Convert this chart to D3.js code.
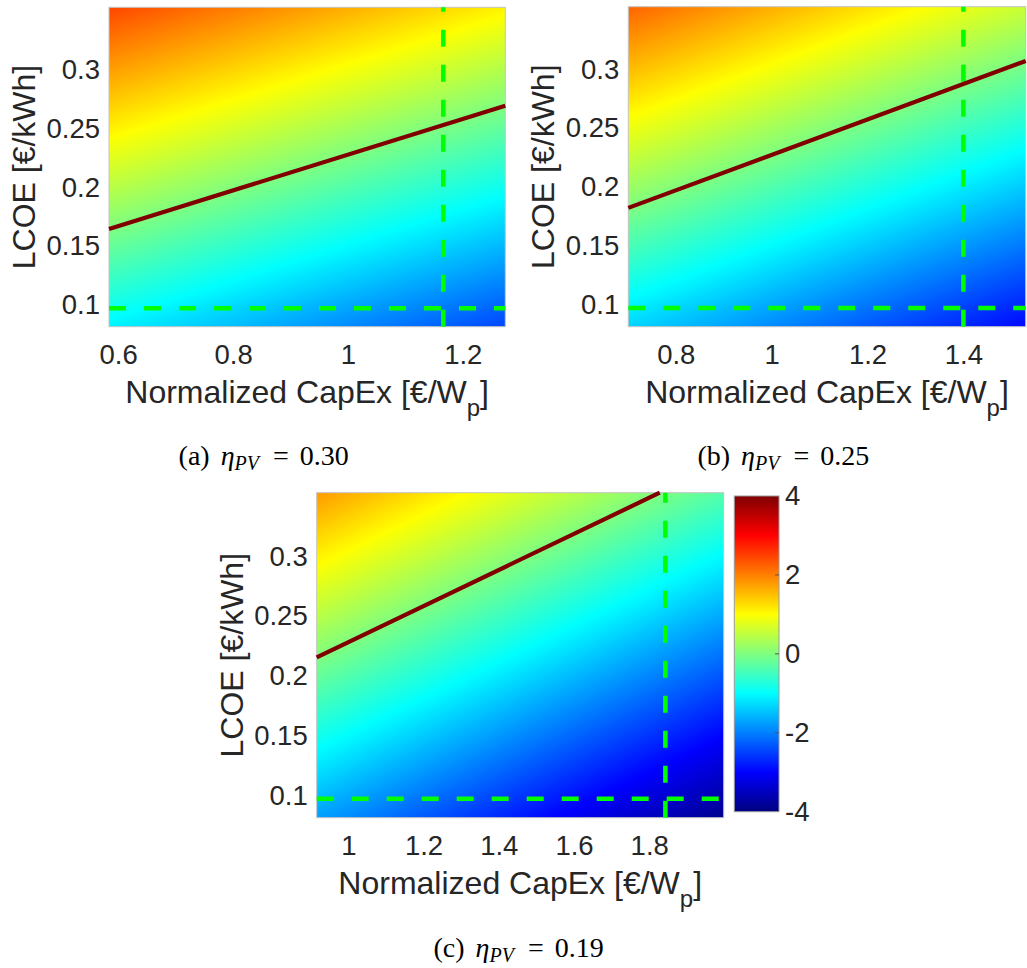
<!DOCTYPE html>
<html>
<head>
<meta charset="utf-8">
<script src="https://cdn.jsdelivr.net/npm/d3@7"></script>
<style>
  html, body { margin: 0; padding: 0; background: #fff; }
  svg { display: block; }
</style>
</head>
<body>
<svg id="fig" width="1027" height="968"></svg>
<script>
// ---- data -------------------------------------------------------------
// PV efficiency of each sub-figure
const panelKeys = ["a", "b", "c"];
const etaValues = ["0.30", "0.25", "0.19"];

// normalized CapEx range [€/Wp] of each panel and the shared LCOE range [€/kWh]
const capexRanges = [[0.584, 1.274], [0.701, 1.530], [0.916, 1.998]];
const lcoeRange = [0.0812, 0.3532];

// tick labels
const capexTicks = [[0.6, 0.8, 1, 1.2], [0.8, 1, 1.2, 1.4], [1, 1.2, 1.4, 1.6, 1.8]];
const lcoeTicks = [0.1, 0.15, 0.2, 0.25, 0.3];
const colorTicks = [-4, -2, 0, 2, 4];
const colorRange = [-4, 4];

// surface nodes: CapEx columns, LCOE rows (bottom -> top)
const gridCapex = [[0.584, 0.929, 1.274], [0.701, 1.115, 1.530], [0.916, 1.457, 1.998]];
const gridLcoe = [0.0812, 0.2172, 0.3532];
const surfaceA = [[-1.08, -1.77, -2.45], [0.68, 0.00, -0.68], [2.45, 1.77, 1.09]];
const surfaceB = [[-1.32, -2.14, -2.95], [0.45, -0.37, -1.19], [2.22, 1.40, 0.58]];
const surfaceC = [[-1.74, -2.81, -3.88], [0.03, -1.04, -2.11], [1.79, 0.72, -0.34]];

// reference CapEx (vertical dashed) and reference LCOE (horizontal dashed)
const refCapex = [1.166, 1.400, 1.843];
const refLcoe = 0.097;

// break-even line end points [CapEx, LCOE]
const breakEvenA = [[0.584, 0.1644], [1.274, 0.2694]];
const breakEvenB = [[0.701, 0.1822], [1.530, 0.3071]];
const breakEvenC = [[0.916, 0.2154], [1.828, 0.3532]];

const surfaces = [surfaceA, surfaceB, surfaceC];
const breakEvens = [breakEvenA, breakEvenB, breakEvenC];

// ---- layout -----------------------------------------------------------
const frames = [
  { left: 109.0, right: 505.3, top: 7.3, bottom: 326.7, capX: 263.7, capY: 465 },
  { left: 628.3, right: 1025.7, top: 6.7, bottom: 326.7, capX: 783.3, capY: 465 },
  { left: 316.7, right: 723.7, top: 492.7, bottom: 817.7, capX: 518.6, capY: 957 }
];
const cbar = { left: 734.3, right: 779, top: 496, bottom: 811.7 };

const SANS = "'Liberation Sans', Arial, Helvetica, sans-serif";
const SERIF = "'Liberation Serif', 'Times New Roman', serif";
const INK = "#262626";

const svg = d3.select("#fig");

// jet colormap over the colour range
const jet = d3.scaleLinear()
  .domain([-4, -3, -1, 1, 3, 4])
  .range(["#000080", "#0000ff", "#00ffff", "#ffff00", "#ff0000", "#800000"])
  .interpolate(d3.interpolateRgb)
  .clamp(true);

// rasterise a surface (shading interp) into an image
function surfaceImage(xs, ys, gx, gy, vals) {
  const [x0, x1] = xs.range();
  const [yb, yt] = ys.range();
  const w = Math.round(x1 - x0), h = Math.round(yb - yt);
  const cv = document.createElement("canvas");
  cv.width = w; cv.height = h;
  const ctx = cv.getContext("2d");
  const img = ctx.createImageData(w, h);
  const fx = d3.scaleLinear().domain(gx).range(d3.range(gx.length)).clamp(true);
  const fy = d3.scaleLinear().domain(gy).range(d3.range(gy.length)).clamp(true);
  for (let j = 0; j < h; j++) {
    const ty = fy(ys.invert(yt + (j + 0.5) * (yb - yt) / h));
    const r = Math.min(Math.floor(ty), gy.length - 2), v = ty - r;
    for (let i = 0; i < w; i++) {
      const tx = fx(xs.invert(x0 + (i + 0.5) * (x1 - x0) / w));
      const c = Math.min(Math.floor(tx), gx.length - 2), u = tx - c;
      const val = (1 - u) * (1 - v) * vals[r][c] + u * (1 - v) * vals[r][c + 1]
                + (1 - u) * v * vals[r + 1][c] + u * v * vals[r + 1][c + 1];
      const col = d3.rgb(jet(val));
      const k = (j * w + i) * 4;
      img.data[k] = col.r; img.data[k + 1] = col.g; img.data[k + 2] = col.b; img.data[k + 3] = 255;
    }
  }
  ctx.putImageData(img, 0, 0);
  return cv.toDataURL();
}

const fmt = d3.format("~g");

panelKeys.forEach((key, p) => {
  const f = frames[p];
  const xs = d3.scaleLinear().domain(capexRanges[p]).range([f.left, f.right]);
  const ys = d3.scaleLinear().domain(lcoeRange).range([f.bottom, f.top]);
  const g = svg.append("g").attr("class", "panel-" + key);

  // surface
  g.append("image")
    .attr("x", f.left).attr("y", f.top)
    .attr("width", f.right - f.left).attr("height", f.bottom - f.top)
    .attr("preserveAspectRatio", "none")
    .attr("href", surfaceImage(xs, ys, gridCapex[p], gridLcoe, surfaces[p]));

  // box
  g.append("rect")
    .attr("x", f.left).attr("y", f.top)
    .attr("width", f.right - f.left).attr("height", f.bottom - f.top)
    .attr("fill", "none").attr("stroke", "#c4c4c4").attr("stroke-width", 1);

  // reference lines
  const line = d3.line().x(d => xs(d[0])).y(d => ys(d[1]));
  g.append("path")
    .attr("d", line([[capexRanges[p][0], refLcoe], [capexRanges[p][1], refLcoe]]))
    .attr("stroke", "#00ff00").attr("stroke-width", 4.5).attr("fill", "none")
    .attr("stroke-dasharray", "17,18");
  g.append("path")
    .attr("d", line([[refCapex[p], lcoeRange[0]], [refCapex[p], lcoeRange[1]]]))
    .attr("stroke", "#00ff00").attr("stroke-width", 4.5).attr("fill", "none")
    .attr("stroke-dasharray", "17,18");

  // break-even line
  g.append("path")
    .attr("d", line(breakEvens[p]))
    .attr("stroke", "#800000").attr("stroke-width", 4.2).attr("fill", "none");

  // x axis
  const ax = g.append("g")
    .attr("transform", `translate(0,${f.bottom})`)
    .call(d3.axisBottom(xs).tickValues(capexTicks[p]).tickFormat(fmt).tickSize(0));
  ax.select(".domain").remove();
  ax.attr("font-size", 27.5).attr("font-family", SANS).attr("color", INK);
  ax.selectAll("text").attr("y", 37).attr("dy", null);

  // y axis
  const ay = g.append("g")
    .attr("transform", `translate(${f.left},0)`)
    .call(d3.axisLeft(ys).tickValues(lcoeTicks).tickFormat(fmt).tickSize(0).tickPadding(9));
  ay.select(".domain").remove();
  ay.attr("font-size", 27.5).attr("font-family", SANS).attr("color", INK);

  // axis titles
  const xt = g.append("text")
    .attr("x", (f.left + f.right) / 2).attr("y", f.bottom + 76.5)
    .attr("text-anchor", "middle").attr("font-family", SANS)
    .attr("font-size", 32).attr("fill", INK);
  xt.append("tspan").text("Normalized CapEx [€/W");
  xt.append("tspan").attr("font-size", 24).attr("dy", 13).text("p");
  xt.append("tspan").attr("dy", -13).text("]");

  g.append("text")
    .attr("transform", `translate(${f.left - 74},${(f.top + f.bottom) / 2}) rotate(-90)`)
    .attr("text-anchor", "middle").attr("font-family", SANS)
    .attr("font-size", 32).attr("fill", INK)
    .text("LCOE [€/kWh]");

  // caption
  const cap = g.append("text")
    .attr("x", f.capX).attr("y", f.capY)
    .attr("text-anchor", "middle").attr("font-family", SERIF)
    .attr("font-size", 28).attr("fill", "#000");
  cap.append("tspan").text("(" + key + ")");
  cap.append("tspan").attr("dx", 11).attr("font-style", "italic").text("η");
  cap.append("tspan").attr("font-style", "italic").attr("font-size", 20).attr("dy", 5).text("PV");
  cap.append("tspan").attr("dy", -5).attr("dx", 14).text("=");
  cap.append("tspan").attr("dx", 11).text(etaValues[p]);
});

// ---- colour bar -------------------------------------------------------
const cs = d3.scaleLinear().domain(colorRange).range([cbar.bottom, cbar.top]);
const grad = svg.append("defs").append("linearGradient")
  .attr("id", "jetGrad").attr("x1", 0).attr("y1", 1).attr("x2", 0).attr("y2", 0);
jet.domain().forEach(v => {
  grad.append("stop")
    .attr("offset", (v - colorRange[0]) / (colorRange[1] - colorRange[0]))
    .attr("stop-color", jet(v));
});
svg.append("rect")
  .attr("x", cbar.left).attr("y", cbar.top)
  .attr("width", cbar.right - cbar.left).attr("height", cbar.bottom - cbar.top)
  .attr("fill", "url(#jetGrad)").attr("stroke", "#9a9a9a").attr("stroke-width", 1);

const ac = svg.append("g")
  .attr("transform", `translate(${cbar.right},0)`)
  .call(d3.axisRight(cs).tickValues(colorTicks).tickFormat(d => String(d)).tickSize(0).tickPadding(6));
ac.select(".domain").remove();
ac.attr("font-size", 27.5).attr("font-family", SANS).attr("color", INK);

svg.append("g").selectAll("line")
  .data(colorTicks.filter(d => d > colorRange[0] && d < colorRange[1]))
  .join("line")
  .attr("x1", cbar.right - 4).attr("x2", cbar.right)
  .attr("y1", d => cs(d)).attr("y2", d => cs(d))
  .attr("stroke", "#555").attr("stroke-width", 1);
</script>
</body>
</html>
